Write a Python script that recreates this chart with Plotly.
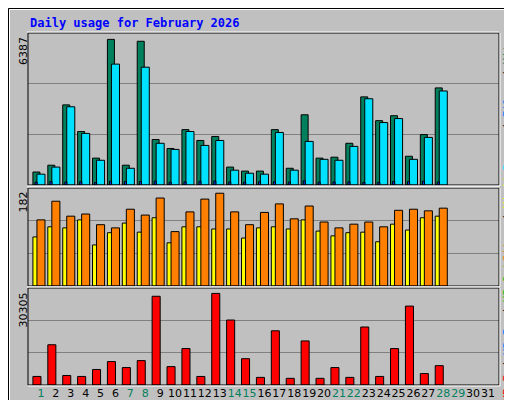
import plotly.graph_objects as go

days = list(range(1, 32))
hits = [550, 840, 3400, 2270, 1140, 6180, 840, 6100, 1930, 1550, 2350, 1890, 2060, 760, 590, 590,
        2350, 710, 2980, 1140, 1180, 1770, 3740, 2730, 2940, 1220, 2140, 4120]
files = [460, 760, 3320, 2190, 1050, 5130, 710, 5000, 1770, 1510, 2270, 1680, 1890, 630, 500, 460,
         2230, 630, 1850, 1090, 1050, 1640, 3660, 2650, 2820, 1090, 2020, 3990]
pages = [120, 150, 130, 140, 110, 160, 150, 150, 170, 120, 140, 160, 170, 130, 120, 140,
         140, 120, 180, 120, 130, 140, 110, 110, 150, 150, 160, 130]
sites = [124, 159, 131, 135, 115, 109, 144, 133, 165, 102, 139, 163, 174, 139, 115, 138,
         154, 126, 150, 120, 109, 116, 120, 111, 142, 144, 141, 146]
visits = [92, 111, 109, 124, 77, 100, 118, 101, 128, 81, 111, 111, 107, 107, 90, 109,
          111, 107, 124, 103, 94, 100, 101, 83, 116, 105, 128, 131]
kbytes = [2700, 12700, 3000, 2700, 4900, 7400, 5500, 7700, 28000, 5800, 11500, 2700, 28900, 20500, 8300, 2400,
          17100, 2100, 13900, 2100, 5500, 2400, 18300, 2700, 11500, 24900, 3600, 6100]
max_hits, max_visits, max_kb = 6387, 182, 30305
weekend = {1, 7, 8, 14, 15, 21, 22, 28, 29}
title = "Daily usage for February 2026"

d28 = days[:28]
line = dict(color="black", width=1)
fig = go.Figure()
def bar(y, color, off, w, ax):
    fig.add_trace(go.Bar(x=d28, y=y, offset=off, width=w, marker=dict(color=color, line=line),
                         xaxis="x" + ax, yaxis="y" + ax, showlegend=False))
bar(hits, "#00805C", -0.54, 0.47, "")
bar(files, "#00E0FF", -0.27, 0.54, "")
bar(pages, "#0040FF", -0.40, 0.14, "")
bar(visits, "#FFFF00", -0.54, 0.34, "2")
bar(sites, "#FF8000", -0.27, 0.54, "2")
bar(kbytes, "#FF0000", -0.54, 0.54, "3")

def px(v): return (v - 20) / 471
def py(v): return (377 - v) / 352

ticktext = [f"<span style='color:{'#00805C' if d in weekend else 'black'}'>{d}</span>" for d in days]
xa = dict(range=[0.13, 31.74], showgrid=False, zeroline=False, showline=False, fixedrange=True, automargin=False)
fig.update_layout(
    width=512, height=400, margin=dict(l=20, r=21, t=25, b=23, autoexpand=False),
    paper_bgcolor="#C0C0C0", plot_bgcolor="#C0C0C0", barmode="overlay",
    xaxis=dict(**xa, anchor="y", showticklabels=False),
    xaxis2=dict(**xa, anchor="y2", showticklabels=False),
    xaxis3=dict(**xa, anchor="y3", tickvals=days, ticktext=ticktext, ticks="", tickangle=0,
                tickfont=dict(family="DejaVu Sans", size=11)),
)
for name, dom, mx in [("yaxis", [py(177), 1], max_hits), ("yaxis2", [py(278), py(180)], max_visits),
                      ("yaxis3", [0, py(280)], max_kb)]:
    fig.layout[name] = dict(domain=dom, range=[0, mx * 1.01], tickvals=[mx * 1.01 / 3, mx * 2.02 / 3],
                            showticklabels=False, gridcolor="#808080", gridwidth=1, zeroline=False,
                            automargin=False)

shapes = []
shapes.append(dict(type="rect", xref="paper", yref="paper", x0=px(0.5), x1=px(511.5), y0=py(399.5), y1=py(0.5),
                   line=dict(color="black", width=1)))
shapes.append(dict(type="line", xref="paper", yref="paper", x0=px(1.5), x1=px(505), y0=py(1.5), y1=py(1.5), line=dict(color="white", width=1)))
shapes.append(dict(type="line", xref="paper", yref="paper", x0=px(1.5), x1=px(1.5), y0=py(1.5), y1=py(395), line=dict(color="white", width=1)))
shapes.append(dict(type="rect", xref="paper", yref="paper", x0=px(506), x1=px(510), y0=py(397), y1=py(5),
                   fillcolor="#808080", line=dict(width=0)))
shapes.append(dict(type="rect", xref="paper", yref="paper", x0=px(5), x1=px(510), y0=py(398), y1=py(394),
                   fillcolor="#808080", line=dict(width=0)))
for t, b in [(25, 177), (180, 278), (280, 377)]:
    shapes.append(dict(type="rect", xref="paper", yref="paper", x0=px(20), x1=px(491), y0=py(b), y1=py(t),
                       line=dict(color="black", width=1)))
    shapes.append(dict(type="line", xref="paper", yref="paper", x0=px(20), x1=px(492), y0=py(b + 1), y1=py(b + 1), line=dict(color="white", width=1)))
    shapes.append(dict(type="line", xref="paper", yref="paper", x0=px(492), x1=px(492), y0=py(b + 1), y1=py(t), line=dict(color="white", width=1)))
    shapes.append(dict(type="line", xref="paper", yref="paper", x0=px(19), x1=px(491), y0=py(t - 1), y1=py(t - 1), line=dict(color="white", width=1)))
fig.update_layout(shapes=shapes)

ann = [dict(x=px(20), y=py(15), xanchor="left", yanchor="middle", text="<b>" + title + "</b>",
            font=dict(family="DejaVu Sans Mono", size=12, color="#0000FF"))]
for lbl, top in [(str(max_hits), 27), (str(max_visits), 182), (str(max_kb), 283)]:
    ann.append(dict(x=px(15), y=py(top), xanchor="center", yanchor="top", text=lbl, textangle=-90,
                    font=dict(family="DejaVu Sans", size=11, color="black")))
sl = "<span style='color:black'> / </span>"
mono = dict(family="DejaVu Sans Mono", size=11)
ann.append(dict(x=px(499), y=py(165), xanchor="center", yanchor="bottom", textangle=-90, font=mono,
                text="<span style='color:#00E0FF'>Pages</span>" + sl + "<span style='color:#0080FF'>Files</span>" + sl + "<span style='color:#00805C'>Hits</span>"))
ann.append(dict(x=px(499), y=py(396), xanchor="center", yanchor="bottom", textangle=-90, font=mono,
                text="<span style='color:#FF0000'>KB F</span>" + sl + "<span style='color:#0080FF'>KB In</span>" + sl + "<span style='color:#00C000'>KB Out</span>"))
ann.append(dict(x=px(499), y=py(256), xanchor="center", yanchor="bottom", textangle=-90, font=mono,
                text="<span style='color:#FF8000'>Sites</span>" + sl + "<span style='color:#FFFF00'>Visits</span>"))
for a in ann:
    a.update(xref="paper", yref="paper", showarrow=False)
fig.update_layout(annotations=ann)
fig.write_html("out.html")
